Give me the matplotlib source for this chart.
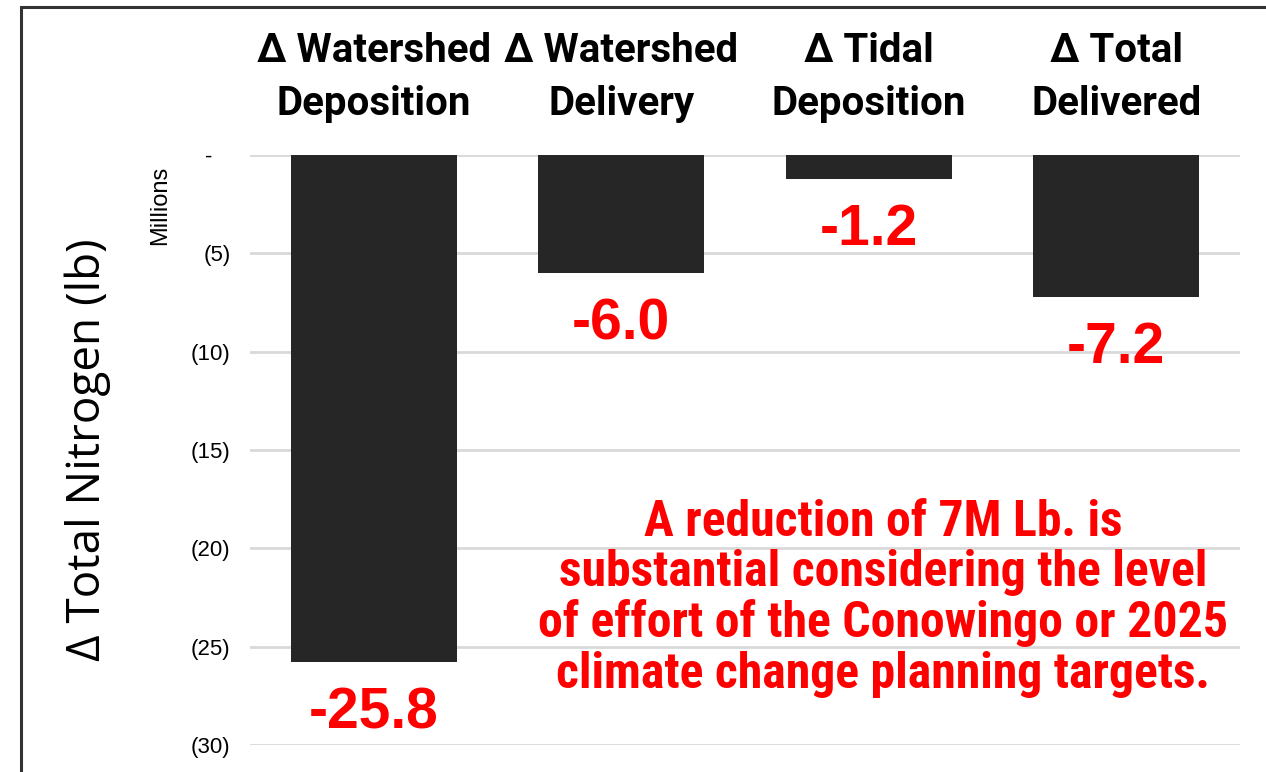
import matplotlib
matplotlib.use("Agg")
import matplotlib.pyplot as plt
from matplotlib.patches import Rectangle
from matplotlib import font_manager

categories = ["\u0394 Watershed\nDeposition", "\u0394 Watershed\nDelivery",
              "\u0394 Tidal\nDeposition", "\u0394 Total\nDelivered"]
values = [-25.8, -6.0, -1.2, -7.2]
value_labels = ["-25.8", "-6.0", "-1.2", "-7.2"]
yticks = [0, -5, -10, -15, -20, -25, -30]
ytick_labels = ["-   ", "(5)", "(10)", "(15)", "(20)", "(25)", "(30)"]
ylabel = "\u0394 Total Nitrogen (lb)"
units_label = "Millions"
note_lines = ["A reduction of 7M Lb. is", "substantial considering the level",
              "of effort of the Conowingo or 2025", "climate change planning targets."]

W, H = 1266, 772
fig = plt.figure(figsize=(W / 100, H / 100), dpi=100)
ax = fig.add_axes([250 / W, 1 - 745 / H, 990 / W, (745 - 155) / H])

x = list(range(len(categories)))
ax.bar(x, values, width=0.67, color="#262626", zorder=3)
ax.set_xlim(-0.5, len(categories) - 0.5)
ax.set_ylim(-30, 0)
ax.set_yticks(yticks)
ax.set_yticklabels(ytick_labels, fontsize=16, family="Liberation Sans")
ax.tick_params(axis="y", length=0, pad=14)
ax.set_xticks([])
ax.yaxis.grid(True, color="#d9d9d9", linewidth=2, zorder=0)
for s in ax.spines.values():
    s.set_visible(False)

for xi, v, lab in zip(x, values, value_labels):
    ax.annotate(lab, (xi, v), xytext=(0, -37), textcoords="offset points",
                ha="center", va="center", color="#ff0000", fontsize=41,
                fontweight="bold", family="Liberation Sans")

cat_baselines = [62, 115]
for xi, c in zip(x, categories):
    xf = fig.transFigure.inverted().transform(ax.transData.transform((xi, 0)))[0]
    for line, yb in zip(c.split("\n"), cat_baselines):
        fig.text(xf, 1 - yb / H, line, ha="center", va="baseline", fontsize=29,
                 fontweight="bold", family="Roboto")

fig.text(88 / W, 1 - 450 / H, ylabel, rotation=90, ha="center", va="center",
         fontsize=33, family="Open Sans")
fig.text(160 / W, 1 - 205 / H, units_label, rotation=90, ha="center",
         va="center", fontsize=17, family="Liberation Sans")

# choose a condensed bold face if available
narrow_family = None
for f in font_manager.fontManager.ttflist:
    if f.name in ("Liberation Sans Narrow", "Roboto Condensed", "Open Sans Condensed"):
        narrow_family = (f.name, "normal")
        break
if narrow_family is None:
    for f in font_manager.fontManager.ttflist:
        if f.name == "DejaVu Sans" and "ondensed" in f.fname:
            narrow_family = ("DejaVu Sans", "condensed")
            break
if narrow_family is None:
    narrow_family = ("Roboto", "normal")

note_baselines = [536, 586, 637, 688]
note_texts = []
for line, yb in zip(note_lines, note_baselines):
    note_texts.append(fig.text(883 / W, 1 - yb / H, line, ha="center", va="baseline",
                               color="#ff0000", fontsize=30, fontweight="bold",
                               family=narrow_family[0], fontstretch=narrow_family[1]))
# fit the widest line to the reference width
fig.canvas.draw()
widest = max(t.get_window_extent().width for t in note_texts)
scale = 690.0 / widest
for t in note_texts:
    t.set_fontsize(30 * scale)

fig.add_artist(Rectangle((21 / W, -0.1), 1.2, 1 - 7 / H + 0.1,
                         transform=fig.transFigure, fill=False,
                         edgecolor="#333333", linewidth=2.2))

fig.savefig("out.png", dpi=100)
